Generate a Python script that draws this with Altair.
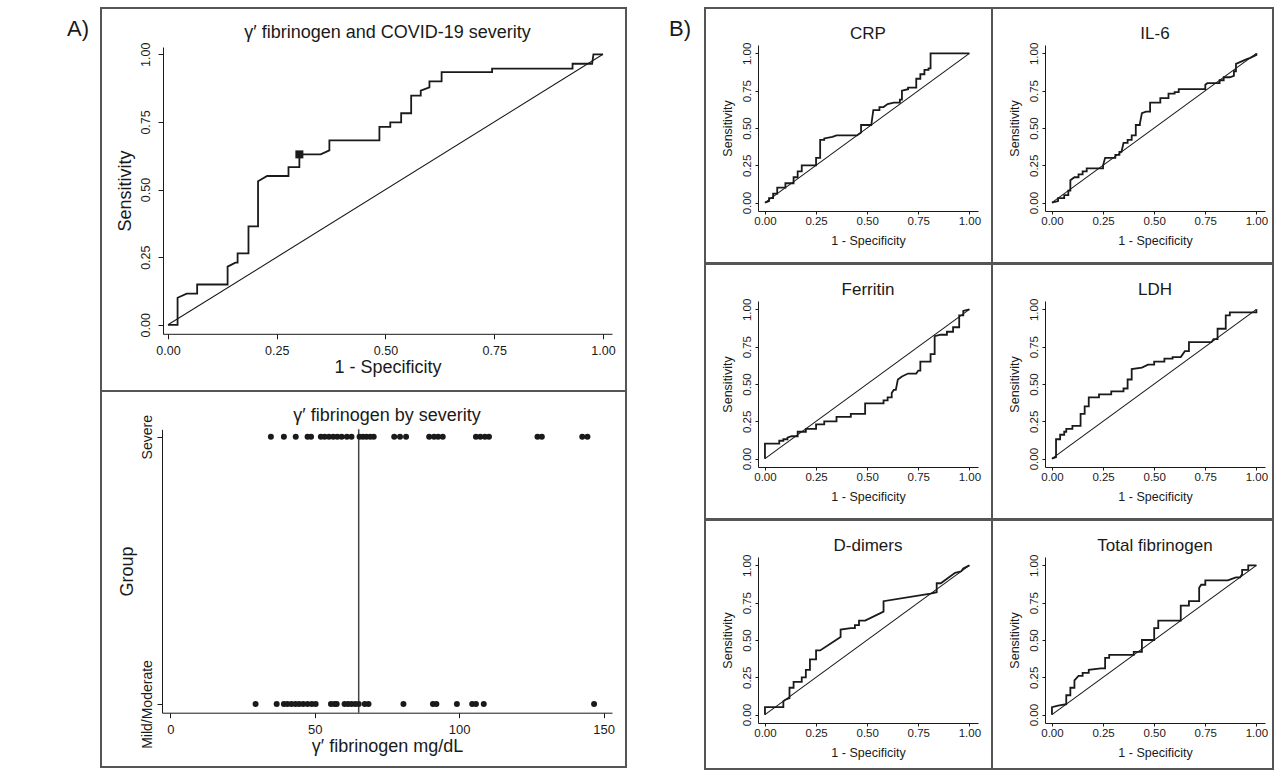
import altair as alt
import pandas as pd

FONT = "Liberation Sans"
INK = "#1a1a1a"
FRAME = "#555555"

PANEL_LABELS = ["A)", "B)"]

# ---------------- Panel A (top): ROC curve of gamma' fibrinogen ----------------
GA_TITLE = "γ′ fibrinogen and COVID-19 severity"
GA_ROC = [(0, 0), (0.022, 0), (0.022, 0.10), (0.043, 0.115), (0.067, 0.115), (0.067, 0.149),
          (0.137, 0.149), (0.137, 0.215), (0.155, 0.23), (0.16, 0.23), (0.16, 0.264), (0.185, 0.264),
          (0.185, 0.364), (0.207, 0.364), (0.207, 0.531), (0.228, 0.55), (0.277, 0.55), (0.277, 0.583),
          (0.302, 0.583), (0.302, 0.63), (0.351, 0.63), (0.371, 0.645), (0.371, 0.682), (0.486, 0.682),
          (0.486, 0.732), (0.511, 0.732), (0.511, 0.748), (0.536, 0.748), (0.536, 0.782), (0.559, 0.782),
          (0.559, 0.847), (0.581, 0.847), (0.581, 0.866), (0.601, 0.878), (0.601, 0.90), (0.629, 0.90),
          (0.629, 0.934), (0.745, 0.934), (0.745, 0.947), (0.93, 0.947), (0.93, 0.965), (0.975, 0.965),
          (0.978, 1.0), (1.0, 1.0)]
GA_CUT_POINT = [(0.302, 0.63)]

# ---------------- Panel A (bottom): values by severity ----------------
DOT_TITLE = "γ′ fibrinogen by severity"
GROUP_NAMES = ["Mild/Moderate", "Severe"]
SEVERE_VALUES = [34.8, 39.3, 43.4, 47.5, 48.7, 52.1, 53.4, 54.9, 56.4, 57.8, 59.3, 61.1, 62.7,
                 65.5, 66.7, 67.9, 69.2, 70.4, 77.5, 79.5, 81.6, 89.6, 91.3, 92.7, 94.3,
                 105.8, 107.3, 108.9, 110.3, 127.1, 128.6, 142.6, 144.4]
MILD_VALUES = [29.5, 36.8, 39.3, 40.5, 41.9, 43.3, 44.6, 46.0, 47.5, 49.0, 50.3, 55.6, 56.8,
               57.6, 60.3, 61.5, 62.7, 64.0, 65.2, 67.3, 68.6, 80.7, 90.9, 92.1, 99.2, 104.5,
               105.8, 108.5, 146.7]
CUTOFF_MGDL = [65.2]

# ---------------- Panel B: ROC curves of other markers ----------------
CRP_ROC = [(0, 0), (0.02, 0.01), (0.02, 0.03), (0.04, 0.03), (0.04, 0.06), (0.06, 0.06), (0.06, 0.10),
           (0.10, 0.10), (0.10, 0.13), (0.14, 0.13), (0.14, 0.17), (0.16, 0.17), (0.16, 0.21), (0.18, 0.21),
           (0.18, 0.25), (0.25, 0.25), (0.25, 0.30), (0.27, 0.30), (0.27, 0.42), (0.29, 0.42), (0.29, 0.43),
           (0.33, 0.44), (0.35, 0.45), (0.45, 0.45), (0.47, 0.47), (0.47, 0.52), (0.52, 0.52), (0.53, 0.62),
           (0.56, 0.62), (0.56, 0.64), (0.58, 0.64), (0.60, 0.66), (0.63, 0.67), (0.66, 0.67), (0.66, 0.69),
           (0.67, 0.69), (0.67, 0.75), (0.70, 0.76), (0.70, 0.77), (0.74, 0.77), (0.74, 0.83), (0.76, 0.83),
           (0.76, 0.86), (0.78, 0.86), (0.78, 0.89), (0.80, 0.89), (0.80, 0.90), (0.81, 0.90), (0.81, 1.0),
           (1.0, 1.0)]
IL6_ROC = [(0, 0), (0.03, 0.01), (0.03, 0.03), (0.06, 0.03), (0.06, 0.05), (0.08, 0.05), (0.08, 0.08),
           (0.09, 0.08), (0.09, 0.15), (0.11, 0.17), (0.13, 0.17), (0.13, 0.19), (0.15, 0.19), (0.15, 0.21),
           (0.17, 0.21), (0.17, 0.23), (0.25, 0.23), (0.25, 0.25), (0.26, 0.30), (0.31, 0.30), (0.31, 0.32),
           (0.33, 0.32), (0.33, 0.34), (0.34, 0.34), (0.35, 0.40), (0.37, 0.40), (0.37, 0.42), (0.39, 0.42),
           (0.39, 0.45), (0.41, 0.45), (0.41, 0.52), (0.43, 0.52), (0.43, 0.53), (0.44, 0.60), (0.46, 0.61),
           (0.48, 0.61), (0.48, 0.67), (0.53, 0.67), (0.53, 0.70), (0.57, 0.70), (0.57, 0.73), (0.60, 0.73),
           (0.60, 0.74), (0.62, 0.74), (0.62, 0.76), (0.75, 0.76), (0.75, 0.79), (0.76, 0.80), (0.82, 0.80),
           (0.82, 0.82), (0.84, 0.82), (0.84, 0.84), (0.87, 0.84), (0.89, 0.85), (0.89, 0.88), (0.90, 0.88),
           (0.90, 0.93), (0.95, 0.96), (0.97, 0.97), (1.0, 0.99), (1.0, 1.0)]
FERRITIN_ROC = [(0, 0), (0, 0.10), (0.07, 0.10), (0.07, 0.12), (0.09, 0.12), (0.09, 0.13), (0.11, 0.13),
                (0.11, 0.14), (0.13, 0.15), (0.16, 0.15), (0.16, 0.18), (0.20, 0.18), (0.20, 0.20), (0.25, 0.20),
                (0.25, 0.23), (0.29, 0.23), (0.29, 0.25), (0.35, 0.25), (0.35, 0.28), (0.42, 0.28), (0.42, 0.30),
                (0.49, 0.30), (0.49, 0.37), (0.58, 0.37), (0.58, 0.39), (0.60, 0.39), (0.60, 0.41), (0.62, 0.41),
                (0.62, 0.44), (0.63, 0.46), (0.64, 0.46), (0.65, 0.53), (0.67, 0.55), (0.70, 0.57), (0.74, 0.57),
                (0.75, 0.59), (0.76, 0.59), (0.76, 0.65), (0.81, 0.65), (0.81, 0.70), (0.83, 0.70), (0.83, 0.82),
                (0.86, 0.83), (0.89, 0.83), (0.89, 0.85), (0.92, 0.85), (0.92, 0.88), (0.95, 0.88), (0.95, 0.96),
                (0.97, 0.96), (0.97, 0.99), (1.0, 1.0)]
LDH_ROC = [(0, 0), (0.02, 0.01), (0.02, 0.13), (0.04, 0.13), (0.04, 0.16), (0.06, 0.16), (0.06, 0.18),
           (0.07, 0.18), (0.07, 0.20), (0.10, 0.20), (0.10, 0.22), (0.14, 0.22), (0.14, 0.30), (0.16, 0.30),
           (0.16, 0.35), (0.18, 0.35), (0.18, 0.41), (0.23, 0.41), (0.23, 0.43), (0.29, 0.43), (0.29, 0.45),
           (0.35, 0.45), (0.35, 0.47), (0.37, 0.47), (0.37, 0.53), (0.39, 0.53), (0.39, 0.60), (0.44, 0.61),
           (0.47, 0.63), (0.50, 0.63), (0.50, 0.65), (0.55, 0.65), (0.55, 0.67), (0.59, 0.67), (0.59, 0.68),
           (0.63, 0.68), (0.65, 0.72), (0.67, 0.72), (0.67, 0.78), (0.78, 0.78), (0.79, 0.80), (0.81, 0.80),
           (0.81, 0.87), (0.85, 0.87), (0.85, 0.96), (0.87, 0.96), (0.87, 0.98), (1.0, 0.98), (1.0, 1.0)]
DDIMER_ROC = [(0, 0), (0, 0.05), (0.09, 0.05), (0.09, 0.09), (0.10, 0.10), (0.12, 0.11), (0.12, 0.18),
              (0.14, 0.18), (0.14, 0.22), (0.18, 0.22), (0.18, 0.25), (0.20, 0.25), (0.20, 0.30), (0.22, 0.30),
              (0.22, 0.37), (0.25, 0.37), (0.25, 0.43), (0.27, 0.43), (0.37, 0.52), (0.37, 0.57), (0.42, 0.58),
              (0.44, 0.58), (0.44, 0.60), (0.46, 0.60), (0.46, 0.63), (0.49, 0.63), (0.58, 0.69), (0.58, 0.76),
              (0.81, 0.81), (0.84, 0.82), (0.84, 0.88), (0.86, 0.88), (0.93, 0.95), (0.96, 0.96), (0.97, 0.98),
              (1.0, 1.0)]
TOTFIB_ROC = [(0, 0), (0, 0.05), (0.03, 0.06), (0.07, 0.07), (0.07, 0.13), (0.09, 0.13), (0.09, 0.18),
              (0.11, 0.18), (0.11, 0.23), (0.13, 0.26), (0.15, 0.26), (0.15, 0.28), (0.18, 0.28), (0.18, 0.30),
              (0.24, 0.31), (0.26, 0.31), (0.26, 0.38), (0.28, 0.38), (0.28, 0.40), (0.40, 0.40), (0.40, 0.42),
              (0.44, 0.42), (0.44, 0.50), (0.50, 0.50), (0.50, 0.58), (0.52, 0.58), (0.52, 0.63), (0.63, 0.63),
              (0.63, 0.73), (0.67, 0.73), (0.67, 0.76), (0.72, 0.76), (0.72, 0.85), (0.73, 0.87), (0.75, 0.87),
              (0.75, 0.90), (0.86, 0.90), (0.88, 0.91), (0.90, 0.92), (0.92, 0.92), (0.93, 0.94), (0.93, 0.97),
              (0.96, 0.97), (0.96, 1.0), (1.0, 1.0)]

B_PANELS = [("CRP", CRP_ROC), ("IL-6", IL6_ROC), ("Ferritin", FERRITIN_ROC),
            ("LDH", LDH_ROC), ("D-dimers", DDIMER_ROC), ("Total fibrinogen", TOTFIB_ROC)]

DIAGONAL = [(0, 0), (1, 1)]
ROC_TICKS = [0, 0.25, 0.5, 0.75, 1]
DOT_TICKS = [0, 50, 100, 150]

TITLE_SHIFT = 17.5  # Vega places top titles relative to the group's content bounds


def pts_df(pts):
    return pd.DataFrame({"fpr": [p[0] for p in pts],
                         "sens": [p[1] for p in pts],
                         "i": list(range(len(pts)))})


def frame_view():
    return alt.ViewBackground(stroke=FRAME, strokeWidth=2)


def box_title(text, ty, dx, fs):
    return alt.TitleParams(text=text, anchor="middle", frame="group", offset=-(ty + TITLE_SHIFT),
                           baseline="middle", dx=dx, fontSize=fs, font=FONT,
                           fontWeight="normal", color=INK)


def roc_chart(title, pts, W, H, g, marker=None):
    xdom, xr, ydom, yr = g["xdom"], g["xr"], g["ydom"], g["yr"]
    xaxis = alt.Axis(title="1 - Specificity", values=ROC_TICKS, format=".2f",
                     offset=-(H - yr[0]), tickSize=g["tick"], labelPadding=g["xpad"],
                     labelFontSize=g["lab"], titleFontSize=g["axt"],
                     titleX=(xr[0] + xr[1]) / 2, titleY=g["xty"],
                     titleAlign="center", titleBaseline="middle")
    yaxis = alt.Axis(title="Sensitivity", values=ROC_TICKS, format=".2f",
                     offset=-xr[0], tickSize=g["tick"], labelPadding=g["ypad"],
                     labelAngle=270, labelAlign="center", labelBaseline="bottom",
                     labelFontSize=g["lab"], titleFontSize=g["axt"],
                     titleX=g["ytx"], titleY=(yr[0] + yr[1]) / 2, titleAngle=270,
                     titleAlign="center", titleBaseline="middle")
    xenc = alt.X("fpr:Q", scale=alt.Scale(domain=xdom, range=xr, nice=False, zero=False), axis=xaxis)
    yenc = alt.Y("sens:Q", scale=alt.Scale(domain=ydom, range=yr, nice=False, zero=False), axis=yaxis)
    diag = alt.Chart(pts_df(DIAGONAL)).mark_line(color=INK, strokeWidth=1.1).encode(x=xenc, y=yenc, order="i:Q")
    curve = alt.Chart(pts_df(pts)).mark_line(color=INK, strokeWidth=1.8).encode(x=xenc, y=yenc, order="i:Q")
    layers = [diag, curve]
    if marker is not None:
        layers.append(alt.Chart(pts_df(marker)).mark_square(color=INK, size=64, opacity=1)
                      .encode(x=xenc, y=yenc))
    return alt.layer(*layers).properties(
        width=W, height=H, view=frame_view(),
        title=box_title(title, g["ty"], (xr[0] + xr[1]) / 2 - W / 2, g["tfs"]))


# geometry (pixels inside each framed box)
GA_GEOM = dict(xdom=[-0.0115, 1.0207], xr=[62, 511], ydom=[-0.0333, 1.027], yr=[325.8, 39],
               tick=5, xpad=6, ypad=6, lab=12.5, axt=18, xty=33.7, ytx=-38, ty=25.5, tfs=18)
B_GEOM = dict(xdom=[-0.034, 1.042], xr=[53, 273], ydom=[-0.056, 1.056], yr=[203, 37],
              tick=3, xpad=1, ypad=3, lab=11.5, axt=12.5, xty=29.8, ytx=-31, ty=25, tfs=17)

A_W, A_TOP_H, A_BOT_H = 525, 383, 376
B_WS = [287, 281]
B_HS = [255, 255, 249]
COL_H = A_TOP_H + A_BOT_H

a_top = roc_chart(GA_TITLE, GA_ROC, A_W, A_TOP_H, GA_GEOM, marker=GA_CUT_POINT)

# ----- dot plot -----
D_XDOM, D_XR = [-2.9, 152.9], [61, 511]
D_YDOM, D_YR = [-0.0325, 1.0277], [321.7, 38.3]
dots_df = pd.DataFrame({
    "value": SEVERE_VALUES + MILD_VALUES,
    "group": [GROUP_NAMES[1]] * len(SEVERE_VALUES) + [GROUP_NAMES[0]] * len(MILD_VALUES),
})
dots_df["code"] = [GROUP_NAMES.index(g) for g in dots_df["group"]]
dx_axis = alt.Axis(title="γ′ fibrinogen mg/dL", values=DOT_TICKS, format="d",
                   offset=-(A_BOT_H - D_YR[0]), tickSize=5, labelPadding=6, labelFontSize=13,
                   titleFontSize=18, titleX=(D_XR[0] + D_XR[1]) / 2, titleY=34,
                   titleAlign="center", titleBaseline="middle")
dy_axis = alt.Axis(title="Group", values=[0, 1],
                   labelExpr="datum.value == 1 ? 'Severe' : 'Mild/Moderate'",
                   offset=-D_XR[0], tickSize=5, labelPadding=3, labelAngle=270,
                   labelAlign="center", labelBaseline="bottom", labelFontSize=14,
                   titleFontSize=18, titleX=-35, titleY=(D_YR[0] + D_YR[1]) / 2, titleAngle=270,
                   titleAlign="center", titleBaseline="middle")
dxs = alt.Scale(domain=D_XDOM, range=D_XR, nice=False, zero=False)
dys = alt.Scale(domain=D_YDOM, range=D_YR, nice=False, zero=False)
dots = alt.Chart(dots_df).mark_circle(color=INK, size=36, opacity=1).encode(
    x=alt.X("value:Q", scale=dxs, axis=dx_axis),
    y=alt.Y("code:Q", scale=dys, axis=dy_axis))
cut_df = pd.DataFrame({"value": CUTOFF_MGDL, "lo": [D_YDOM[0]], "hi": [D_YDOM[1]]})
cut = alt.Chart(cut_df).mark_rule(color="#444444", strokeWidth=1.5).encode(
    x=alt.X("value:Q", scale=dxs, axis=dx_axis),
    y=alt.Y("lo:Q", scale=dys, axis=dy_axis), y2="hi:Q")
a_bot = alt.layer(cut, dots).properties(
    width=A_W, height=A_BOT_H, view=frame_view(),
    title=box_title(DOT_TITLE, 25.7, (D_XR[0] + D_XR[1]) / 2 - A_W / 2, 18))

col_a = alt.vconcat(a_top, a_bot, spacing=0, bounds="flush")

rows = []
for r in range(3):
    cells = []
    for c in range(2):
        name, pts = B_PANELS[r * 2 + c]
        cells.append(roc_chart(name, pts, B_WS[c], B_HS[r], B_GEOM))
    rows.append(alt.hconcat(*cells, spacing=0, bounds="flush"))
# frames are 2px wide: overlap neighbouring rows so the borders coincide
grid_b = alt.vconcat(*rows, spacing=-2, bounds="full")


def label_chart(text, W, x):
    return alt.Chart(pd.DataFrame({"t": [text]})).mark_text(
        font=FONT, fontSize=22, color=INK, align="center", baseline="middle").encode(
        text="t:N", x=alt.value(x), y=alt.value(21)).properties(
        width=W, height=COL_H,
        view=alt.ViewBackground(fill="white", stroke="transparent", strokeWidth=0))


lab_a = label_chart(PANEL_LABELS[0], 101, 78)
lab_b = label_chart(PANEL_LABELS[1], 78, 53)

chart = alt.hconcat(lab_a, col_a, lab_b, grid_b, spacing=-1, bounds="full").properties(
    padding={"left": 0, "top": 7, "right": 0, "bottom": 0},
    background="white",
).configure(font=FONT).configure_axis(
    grid=False, labelFont=FONT, titleFont=FONT, labelColor=INK, titleColor=INK,
    domainColor=INK, tickColor=INK, domainWidth=1, tickWidth=1,
    titleFontWeight="normal", labelFlush=False, labelOverlap=False,
).configure_view(stroke="transparent")

chart.save("out.html", embed_options={"renderer": "svg", "actions": False})
